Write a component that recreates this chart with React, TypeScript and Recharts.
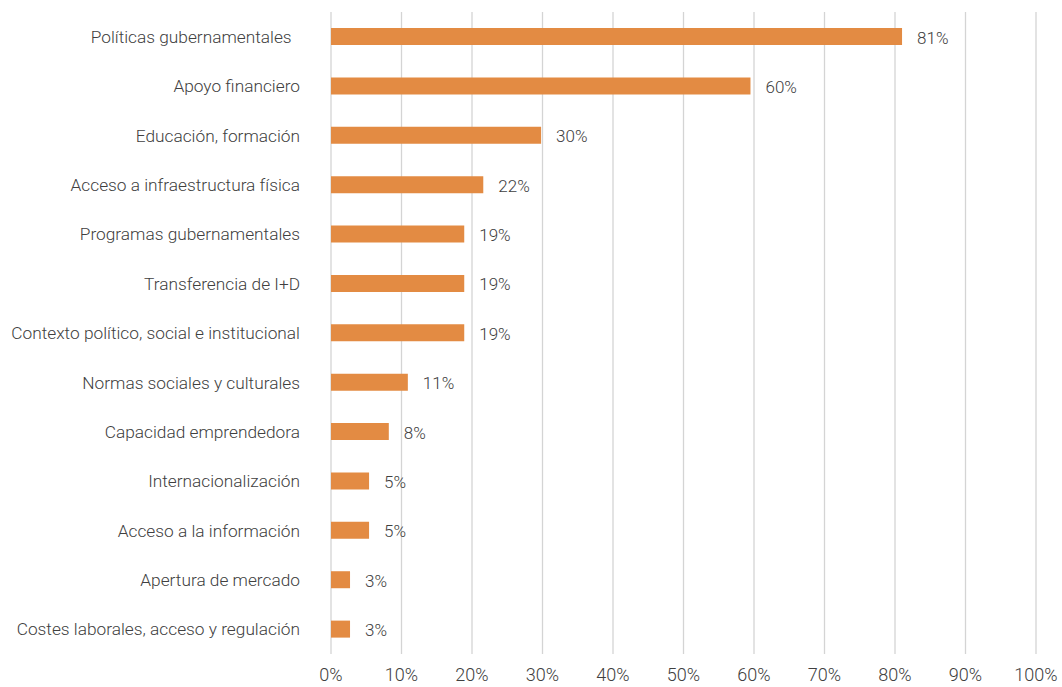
import React from 'react';
import { BarChart, Bar, XAxis, YAxis, CartesianGrid, LabelList } from 'recharts';

const categories = [
  'Políticas gubernamentales\u00a0\u00a0',
  'Apoyo financiero',
  'Educación, formación',
  'Acceso a infraestructura física',
  'Programas gubernamentales',
  'Transferencia de I+D',
  'Contexto político, social e institucional',
  'Normas sociales y culturales',
  'Capacidad emprendedora',
  'Internacionalización',
  'Acceso a la información',
  'Apertura de mercado',
  'Costes laborales, acceso y regulación',
];
const values = [81, 59.5, 29.8, 21.6, 18.9, 18.9, 18.9, 10.9, 8.2, 5.4, 5.4, 2.7, 2.7];
const valueLabels = ['81%', '60%', '30%', '22%', '19%', '19%', '19%', '11%', '8%', '5%', '5%', '3%', '3%'];
const xTicks = [0, 10, 20, 30, 40, 50, 60, 70, 80, 90, 100];

const data = categories.map((c, i) => ({ name: c, value: values[i], label: valueLabels[i] }));

const FONT = 'Roboto, sans-serif';
const TEXT = '#404040';

export default function App() {
  return (
    <div style={{ position: 'absolute', left: 0, top: 0, width: 1062, height: 687, background: '#fff' }}>
      <BarChart
        width={1062}
        height={687}
        data={data}
        layout="vertical"
        margin={{ top: 12, right: 26, bottom: 0, left: 0 }}
        barSize={17}
      >
        <CartesianGrid horizontal={false} vertical={true} stroke="#d4d4d4" strokeWidth={1.3} />
        <XAxis
          type="number"
          domain={[0, 100]}
          ticks={xTicks}
          interval={0}
          tickFormatter={(v: number) => `${v}%`}
          axisLine={false}
          tickLine={false}
          tickSize={0}
          tickMargin={14}
          height={33}
          tick={{ fill: TEXT, fontSize: 18, fontFamily: FONT, fontWeight: 300 }}
        />
        <YAxis
          type="category"
          dataKey="name"
          width={331}
          axisLine={false}
          tickLine={false}
          tickSize={0}
          tickMargin={31}
          interval={0}
          tick={{ fill: TEXT, fontSize: 17.3, fontFamily: FONT, fontWeight: 300 }}
        />
        <Bar dataKey="value" fill="#E38B43" isAnimationActive={false}>
          <LabelList
            dataKey="label"
            position="right"
            offset={15}
            fill={TEXT}
            fontSize={17}
            fontFamily={FONT}
            fontWeight={300}
            dy={1}
          />
        </Bar>
      </BarChart>
    </div>
  );
}
